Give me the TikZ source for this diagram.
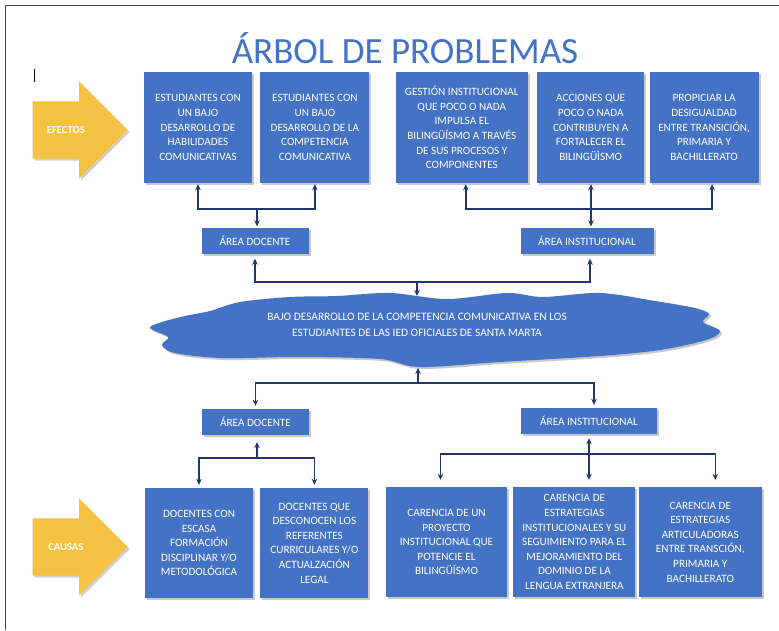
\documentclass[tikz,border=0pt]{standalone}
\usepackage{fontspec}
\setmainfont{Carlito}
\usepackage{xcolor}
\usetikzlibrary{shapes.arrows, arrows.meta, positioning, shadows}
\definecolor{boxblue}{HTML}{4472C4}
\definecolor{linkblue}{HTML}{1F3868}
\definecolor{arrowgold}{HTML}{F5C244}
\definecolor{framegray}{HTML}{404040}
\tikzset{
  prob/.style   = {rectangle, fill=boxblue, text=white, inner sep=0pt,
                   minimum height=111pt, align=center,
                   font=\fontsize{11.2}{14.6}\selectfont,
                   drop shadow={shadow xshift=2pt, shadow yshift=-2pt,
                                opacity=0.35, fill=black!60}},
  area/.style   = {prob, minimum height=26pt},
  coreblob/.style = {fill=boxblue,
                   drop shadow={shadow xshift=2pt, shadow yshift=-2pt,
                                opacity=0.35, fill=black!60}},
  corelabel/.style = {text=white, align=center,
                   font=\fontsize{11.4}{16}\selectfont},
  bigarrow/.style = {single arrow, fill=arrowgold, text=white,
                   single arrow head extend=20pt, inner ysep=25pt,
                   inner xsep=4pt, minimum height=95pt,
                   font=\bfseries\fontsize{10.6}{12}\selectfont,
                   drop shadow={shadow xshift=2pt, shadow yshift=-2pt,
                                opacity=0.3, fill=black!60}},
  flow/.style   = {-{Stealth[length=6pt,width=5.5pt]}, line width=1.6pt,
                   draw=linkblue},
  biflow/.style = {{Stealth[length=6pt,width=5.5pt]}-{Stealth[length=6pt,width=5.5pt]},
                   line width=1.6pt, draw=linkblue},
}

\begin{document}
\begin{tikzpicture}[x=1pt, y=-1pt]
  \useasboundingbox (0,0) rectangle (779,630);
  \fill[white] (0,0) rectangle (779,630);
  \draw[framegray, line width=1.2pt] (779,5.5) -- (5.5,5.5) -- (5.5,630);
  \draw[black, line width=0.8pt] (34,69) -- (34,82);

  \node[text=boxblue, font=\fontsize{37}{40}\selectfont, anchor=base] (title) at (405,63) {ÁRBOL DE PROBLEMAS};

  \node[bigarrow, anchor=tip] (efectos) at (128,130) {EFECTOS};
  \node[bigarrow, anchor=tip] (causas) at (128,547) {CAUSAS};

  \node[prob, minimum width=108pt] (e1) at (198,127.5) {ESTUDIANTES CON\\UN BAJO\\DESARROLLO DE\\HABILIDADES\\COMUNICATIVAS};
  \node[prob, minimum width=109pt, right=8pt of e1] (e2) {ESTUDIANTES CON\\UN BAJO\\DESARROLLO DE LA\\COMPETENCIA\\COMUNICATIVA};
  \node[prob, minimum width=132pt, right=26pt of e2] (e3) {GESTIÓN INSTITUCIONAL\\QUE POCO O NADA\\IMPULSA EL\\BILINGÜÍSMO A TRAVÉS\\DE SUS PROCESOS Y\\COMPONENTES};
  \node[prob, minimum width=107pt, right=9pt of e3] (e4) {ACCIONES QUE\\POCO O NADA\\CONTRIBUYEN A\\FORTALECER EL\\BILINGÜÌSMO};
  \node[prob, minimum width=109pt, right=5pt of e4] (e5) {PROPICIAR LA\\DESIGUALDAD\\ENTRE TRANSICIÓN,\\PRIMARIA Y\\BACHILLERATO};

  \node[area, minimum width=107pt] (ad1) at (255,240.5) {ÁREA DOCENTE};
  \node[area, minimum width=133pt] (ai1) at (587,240.5) {ÁREA INSTITUCIONAL};

  \fill[coreblob] plot[smooth cycle, tension=0.55] coordinates {
    (150,328) (162,322) (185,316) (210,311) (240,302) (290,297) (337,296)
    (390,293) (447,299) (507,293) (543,297) (600,293) (655,301) (695,308)
    (709,314) (703,322) (720,331) (706,340) (660,350) (600,356) (500,362)
    (420,367) (380,359) (300,357) (222,358) (175,353) (162,345) (168,337)};
  \coordinate (coretop) at (417,296);
  \coordinate (corebot) at (418,368);
  \node[corelabel] (problabel) at (417,325) {BAJO DESARROLLO DE LA COMPETENCIA COMUNICATIVA EN LOS\\ESTUDIANTES DE LAS IED OFICIALES DE SANTA MARTA};

  \node[area, minimum width=107pt] (ad2) at (255.5,422) {ÁREA DOCENTE};
  \node[area, minimum width=136pt] (ai2) at (589,421) {ÁREA INSTITUCIONAL};

  \node[prob, minimum width=108pt, minimum height=110pt] (c1) at (199,543) {DOCENTES CON\\ESCASA\\FORMACIÓN\\DISCIPLINAR Y/O\\METODOLÓGICA};
  \node[prob, minimum width=108pt, minimum height=110pt, right=7pt of c1] (c2) {DOCENTES QUE\\DESCONOCEN LOS\\REFERENTES\\CURRICULARES Y/O\\ACTUALZACIÓN\\LEGAL};
  \node[prob, minimum width=121pt, minimum height=110pt] (c3) at (446.5,542) {CARENCIA DE UN\\PROYECTO\\INSTITUCIONAL QUE\\POTENCIE EL\\BILINGÜÍSMO};
  \node[prob, minimum width=122pt, minimum height=110pt, right=6pt of c3] (c4) {CARENCIA DE\\ESTRATEGIAS\\INSTITUCIONALES Y SU\\SEGUIMIENTO PARA EL\\MEJORAMIENTO DEL\\DOMINIO DE LA\\LENGUA EXTRANJERA};
  \node[prob, minimum width=123pt, minimum height=110pt, right=3pt of c4] (c5) {CARENCIA DE\\ESTRATEGIAS\\ARTICULADORAS\\ENTRE TRANSCIÓN,\\PRIMARIA Y\\BACHILLERATO};

  \coordinate (j1) at (257,209);
  \coordinate (j2) at (591,209);
  \coordinate (j3) at (417,282);
  \coordinate (j4) at (418,383);
  \coordinate (j5) at (257,458);
  \coordinate (j6) at (590,454);

  \draw[biflow, shorten <=1pt, shorten >=1pt] (e1.south) |- (j1) -| (e2.south);
  \draw[flow, shorten >=1pt] (j1) -- (j1 |- ad1.north);
  \draw[biflow, shorten <=1pt, shorten >=1pt] ([xshift=4pt]e3.south) |- (j2) -| ([xshift=8pt]e5.south);
  \draw[biflow, shorten <=1pt, shorten >=1pt] (j2 |- e4.south) -- (j2 |- ai1.north);
  \draw[biflow, shorten <=5pt, shorten >=5pt] (ad1.south) |- (j3) -| ([xshift=3pt]ai1.south);
  \draw[flow] (j3) -- (coretop);
  \draw[flow] (j4) -- (corebot);
  \draw[biflow, shorten <=3pt, shorten >=3pt] (ad2.north) |- (j4) -| ([xshift=5pt]ai2.north);
  \draw[flow, shorten >=7pt] (j5) -- (j5 |- ad2.south);
  \draw[biflow, shorten <=3pt, shorten >=3pt] (c1.north) |- (j5) -| (c2.north);
  \draw[biflow, shorten <=4pt, shorten >=7pt] (ai2.south) -- (ai2.south |- c4.north);
  \draw[biflow, shorten <=7pt, shorten >=7pt] ([xshift=-6pt]c3.north) |- (j6) -| ([xshift=15pt]c5.north);
\end{tikzpicture}
\end{document}
